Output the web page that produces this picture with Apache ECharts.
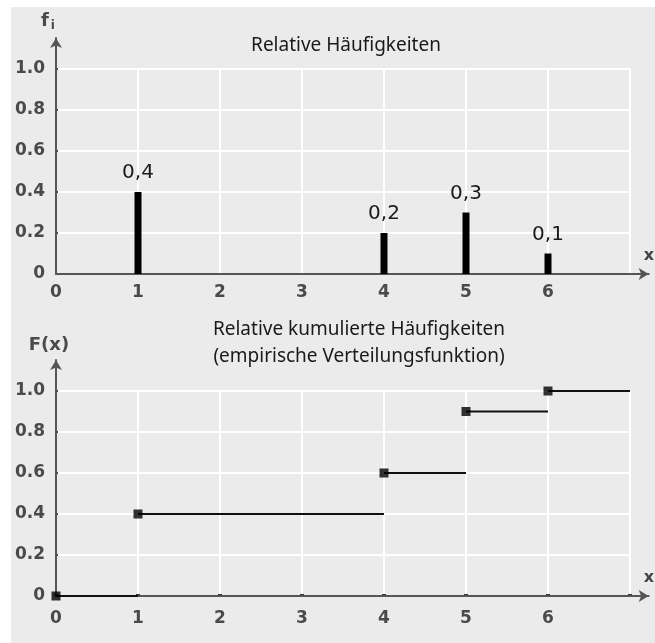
<!DOCTYPE html>
<html><head><meta charset="utf-8">
<script src="https://cdn.jsdelivr.net/npm/echarts@6/dist/echarts.min.js"></script>
<style>
html,body{margin:0;padding:0;background:#fff;overflow:hidden}
#bg{position:absolute;left:11px;top:7px;width:644px;height:636px;background:#ebebeb}
#c{position:absolute;left:0;top:0;width:655px;height:643px}
</style></head>
<body><div id="bg"></div><div id="c"></div>
<script>
// Data
const barX = [1, 4, 5, 6];
const relFreq = [0.4, 0.2, 0.3, 0.1];
const stepStart = [0, 1, 4, 5, 6];
const stepEnd = [1, 4, 5, 6, 7];
const cumFreq = [0, 0.4, 0.6, 0.9, 1.0];
const xTickLabels = ['0', '1', '2', '3', '4', '5', '6'];
const yTickLabels = ['0', '0.2', '0.4', '0.6', '0.8', '1.0'];
const title1 = 'Relative Häufigkeiten';
const title2 = 'Relative kumulierte Häufigkeiten\n(empirische Verteilungsfunktion)';

const axisColor = '#555';
const labelFont = {fontFamily: 'DejaVu Sans', fontWeight: 'bold', fontSize: 17, color: '#4a4a4a'};

function gridAxesX(gridIndex, margin, ticks) {
  return {
    type: 'value', gridIndex, min: 0, max: 7, interval: 1, z: 0,
    axisLine: {show: false},
    axisTick: {show: ticks, inside: true, length: 2, lineStyle: {color: '#333', width: 4}},
    splitLine: {show: true, lineStyle: {color: '#fff', width: 2}},
    axisLabel: Object.assign({margin, formatter: v => (xTickLabels[v] !== undefined ? xTickLabels[v] : '')}, labelFont)
  };
}
function gridAxesY(gridIndex) {
  return {
    type: 'value', gridIndex, min: 0, max: 1, interval: 0.2, z: 0,
    axisLine: {show: false},
    axisTick: {show: true, inside: true, length: 2, lineStyle: {color: '#444', width: 2}},
    splitLine: {show: true, lineStyle: {color: '#fff', width: 2}},
    axisLabel: Object.assign({margin: 11, formatter: v => yTickLabels[Math.round(v / 0.2)]}, labelFont)
  };
}
function arrowX(gridIndex) {
  return {
    type: 'value', gridIndex, min: 0, max: 1, z: 1,
    axisLine: {show: true, symbol: ['none', 'arrow'], symbolSize: [9, 10], lineStyle: {color: axisColor, width: 2}},
    axisTick: {show: false}, axisLabel: {show: false}, splitLine: {show: false},
    name: 'x', nameLocation: 'end', nameGap: -5,
    nameTextStyle: {fontFamily: 'DejaVu Sans', fontWeight: 'bold', fontSize: 16, color: '#444', verticalAlign: 'bottom', padding: [0, 0, 10, 0]}
  };
}
function arrowY(gridIndex, name, padRight) {
  return {
    type: 'value', gridIndex, min: 0, max: 1, z: 1,
    axisLine: {show: true, symbol: ['none', 'arrow'], symbolSize: [9, 10], lineStyle: {color: axisColor, width: 2}},
    axisTick: {show: false}, axisLabel: {show: false}, splitLine: {show: false},
    name, nameLocation: 'end', nameGap: 6,
    nameTextStyle: {
      fontFamily: 'DejaVu Sans', fontWeight: 'bold', fontSize: 18, color: '#4a4a4a', padding: [0, padRight, 0, 0],
      rich: {
        f: {fontFamily: 'DejaVu Sans', fontWeight: 'bold', fontSize: 18, color: '#4a4a4a'},
        i: {fontFamily: 'DejaVu Sans', fontWeight: 'bold', fontSize: 12, color: '#4a4a4a', padding: [10, 0, 0, 2]}
      }
    }
  };
}

const lineSeries = stepStart.map((s, k) => ({
  type: 'line', xAxisIndex: 2, yAxisIndex: 2, z: 3,
  data: [[s, cumFreq[k]], [stepEnd[k], cumFreq[k]]],
  showSymbol: false, symbol: 'none', silent: true,
  lineStyle: {color: '#111', width: 2}
}));

const chart = echarts.init(document.getElementById('c'), null, {renderer: 'canvas'});
chart.setOption({
  backgroundColor: 'transparent',
  animation: false,
  title: [
    {text: title1, left: 341, top: 31, textAlign: 'center',
     textStyle: {fontFamily: 'Noto Sans', fontWeight: 'normal', fontSize: 19, color: '#1a1a1a'}},
    {text: title2, left: 354, top: 311, textAlign: 'center',
     textStyle: {fontFamily: 'Noto Sans', fontWeight: 'normal', fontSize: 19, color: '#1a1a1a', lineHeight: 27}}
  ],
  grid: [
    {left: 56, right: 25, top: 69, bottom: 369},
    {left: 56, right: -1, top: 38, bottom: 369},
    {left: 56, right: 25, top: 391, bottom: 47},
    {left: 56, right: -1, top: 360, bottom: 47}
  ],
  xAxis: [gridAxesX(0, 10, false), arrowX(1), gridAxesX(2, 14, true), arrowX(3)],
  yAxis: [gridAxesY(0), arrowY(1, '{f|f}{i|i}', 16), gridAxesY(2), arrowY(3, 'F(x)', 14)],
  series: [
    {
      type: 'bar', xAxisIndex: 0, yAxisIndex: 0, z: 3, barWidth: 7,
      data: barX.map((x, k) => [x, relFreq[k]]),
      itemStyle: {color: '#000'},
      label: {show: true, position: 'top', distance: 9,
        fontFamily: 'DejaVu Sans', fontSize: 20, color: '#1a1a1a',
        formatter: p => String(p.value[1]).replace('.', ',')}
    },
    ...lineSeries,
    {
      type: 'scatter', xAxisIndex: 2, yAxisIndex: 2, z: 4,
      symbol: 'rect', symbolSize: 9,
      data: stepStart.map((x, k) => [x, cumFreq[k]]),
      itemStyle: {color: '#000'}
    }
  ]
});
</script></body></html>
